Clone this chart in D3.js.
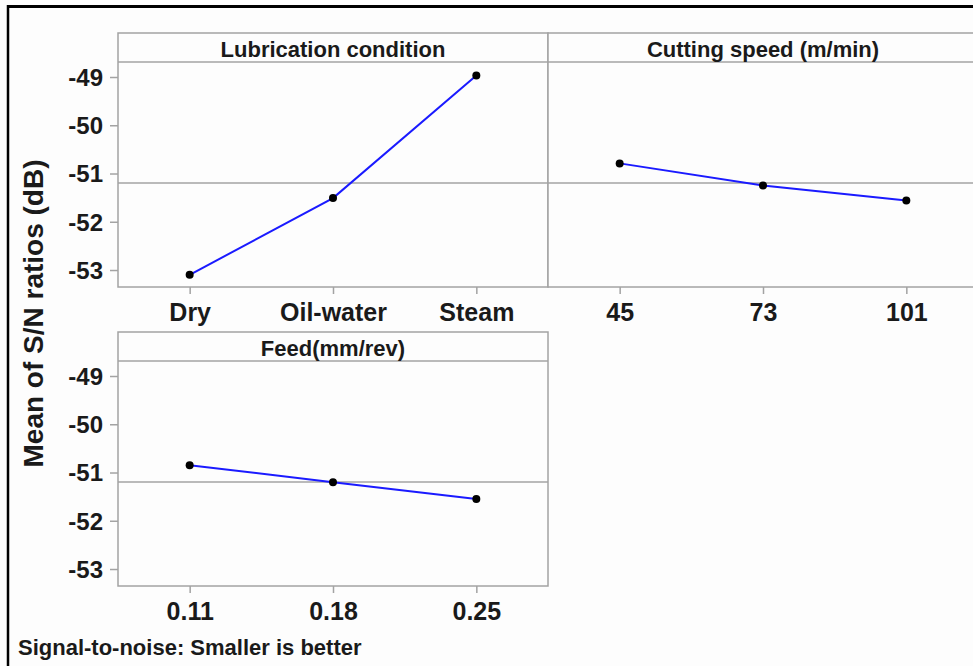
<!DOCTYPE html>
<html>
<head>
<meta charset="utf-8">
<script src="https://cdn.jsdelivr.net/npm/d3@7"></script>
<style>
  body { margin: 0; background: #fdfdfd; }
  svg { display: block; font-family: "Liberation Sans", Arial, sans-serif; font-weight: bold; }
</style>
</head>
<body>
<script>
// main effects plot for S/N ratios (smaller is better)
const lubricationLevels = ["Dry", "Oil-water", "Steam"];
const lubricationSN = [-53.10, -51.51, -48.97];
const speedLevels = ["45", "73", "101"];
const speedSN = [-50.79, -51.25, -51.56];
const feedLevels = ["0.11", "0.18", "0.25"];
const feedSN = [-50.85, -51.20, -51.55];
const yTicks = [-49, -50, -51, -52, -53];
const factorTitles = ["Lubrication condition", "Cutting speed (m/min)", "Feed(mm/rev)"];

const width = 973;
const height = 666;
const grandMean = d3.mean(lubricationSN.concat(speedSN, feedSN));

const panels = [
  { title: factorTitles[0], levels: lubricationLevels, values: lubricationSN, x: 118, top: 33, yAxis: true },
  { title: factorTitles[1], levels: speedLevels, values: speedSN, x: 548, top: 33, yAxis: false },
  { title: factorTitles[2], levels: feedLevels, values: feedSN, x: 118, top: 332, yAxis: true }
];
const pw = 430, strip = 29, ph = 225;
const grey = "#a3a3a3";

const svg = d3.select("body").append("svg")
    .attr("width", width)
    .attr("height", height);

svg.append("rect").attr("width", width).attr("height", height).attr("fill", "#fdfdfd");

// outer frame (cropped at right and bottom)
svg.append("line").attr("x1", 8).attr("x2", width).attr("y1", 6.5).attr("y2", 6.5)
    .attr("stroke", "#000").attr("stroke-width", 3);
svg.append("line").attr("x1", 8).attr("x2", 8).attr("y1", 5).attr("y2", height)
    .attr("stroke", "#000").attr("stroke-width", 2.5);

panels.forEach(p => {
  const g = svg.append("g");
  const plotTop = p.top + strip, plotBot = plotTop + ph;

  const x = d3.scalePoint().domain(p.levels).range([p.x, p.x + pw]).padding(0.5);
  const y = d3.scaleLinear().domain([-53.352, -48.689]).range([plotBot, plotTop]);

  g.append("rect")
      .attr("x", p.x).attr("y", p.top).attr("width", pw).attr("height", strip + ph)
      .attr("fill", "#fdfdfd").attr("stroke", grey).attr("stroke-width", 1.5);
  g.append("line")
      .attr("x1", p.x).attr("x2", p.x + pw).attr("y1", plotTop).attr("y2", plotTop)
      .attr("stroke", grey).attr("stroke-width", 1.5);
  g.append("text")
      .attr("x", p.x + pw / 2).attr("y", p.top + 23.5)
      .attr("text-anchor", "middle").attr("font-size", 22).attr("fill", "#1a1a1a")
      .text(p.title);

  // grand mean reference
  g.append("line")
      .attr("x1", p.x).attr("x2", p.x + pw).attr("y1", y(grandMean)).attr("y2", y(grandMean))
      .attr("stroke", grey).attr("stroke-width", 1.5);

  const xAxis = g.append("g")
      .attr("transform", `translate(0,${plotBot})`)
      .call(d3.axisBottom(x).tickSize(7).tickPadding(9));
  xAxis.select(".domain").remove();
  xAxis.selectAll("line").attr("stroke", grey).attr("stroke-width", 1.5);
  xAxis.selectAll("text").attr("font-size", 25).attr("font-family", null).attr("fill", "#1a1a1a");

  if (p.yAxis) {
    const yAxis = g.append("g")
        .attr("transform", `translate(${p.x},0)`)
        .call(d3.axisLeft(y).tickValues(yTicks).tickFormat(d => String(d)).tickSize(8).tickPadding(7));
    yAxis.select(".domain").remove();
    yAxis.selectAll("line").attr("stroke", grey).attr("stroke-width", 1.5);
    yAxis.selectAll("text").attr("font-size", 24).attr("font-family", null)
        .attr("dy", "0.35em").attr("fill", "#1a1a1a");
  }

  const pts = p.levels.map((l, i) => [x(l), y(p.values[i])]);
  g.append("path")
      .attr("d", d3.line()(pts))
      .attr("fill", "none").attr("stroke", "#1a1aff").attr("stroke-width", 2);
  g.selectAll("circle").data(pts).enter().append("circle")
      .attr("cx", d => d[0]).attr("cy", d => d[1]).attr("r", 4)
      .attr("fill", "#000");
});

svg.append("text")
    .attr("transform", "translate(43,313.5) rotate(-90)")
    .attr("text-anchor", "middle").attr("font-size", 28).attr("fill", "#1a1a1a")
    .text("Mean of S/N ratios (dB)");

svg.append("text")
    .attr("x", 18).attr("y", 655)
    .attr("font-size", 22).attr("fill", "#1a1a1a")
    .text("Signal-to-noise: Smaller is better");
</script>
</body>
</html>
